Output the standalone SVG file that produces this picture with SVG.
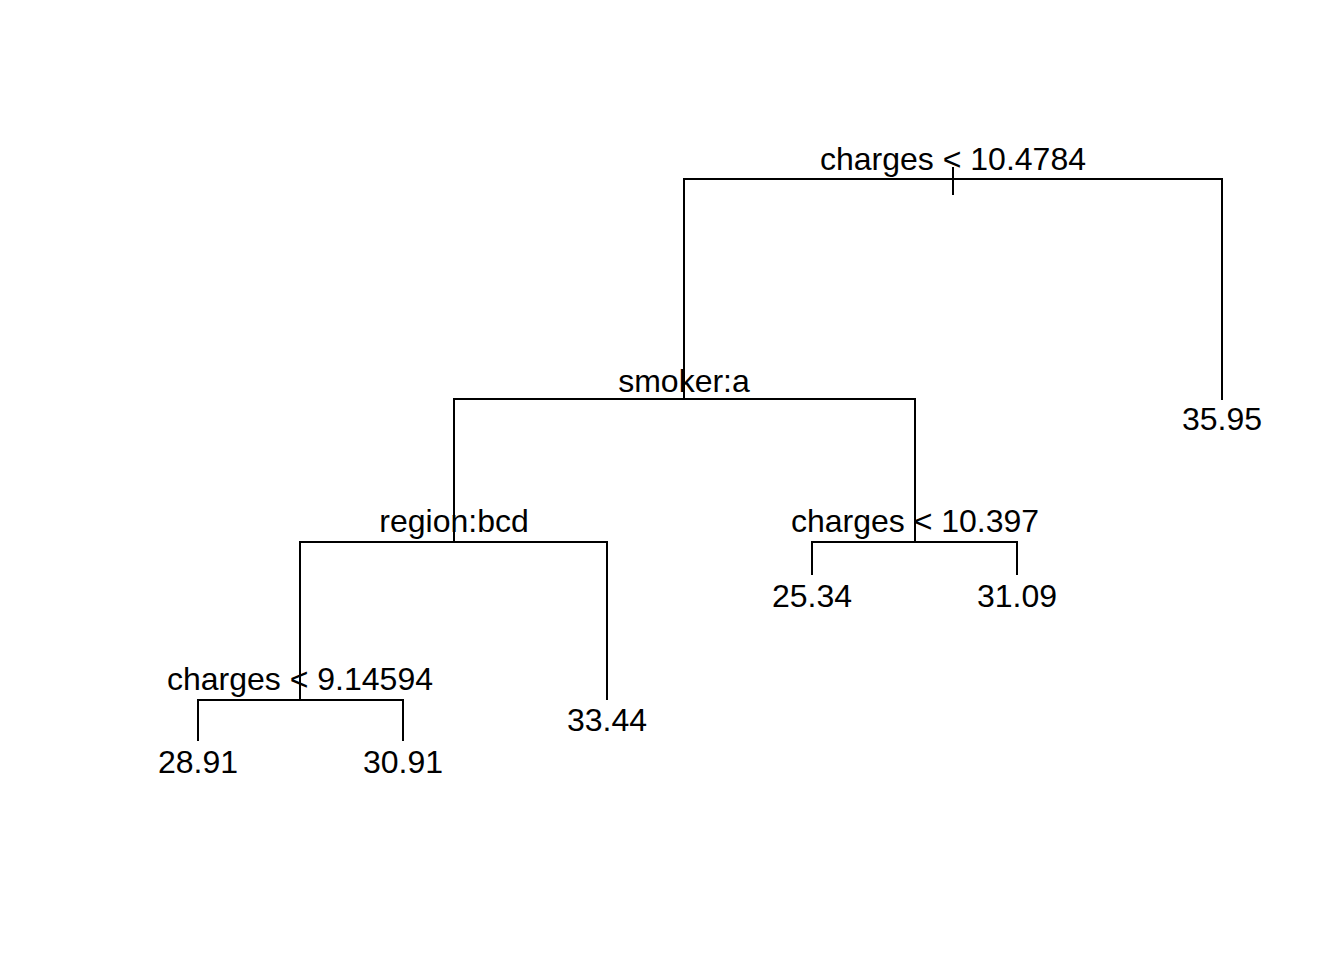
<svg xmlns="http://www.w3.org/2000/svg" width="1344" height="960" viewBox="0 0 1344 960">
<style>
.e{stroke:#000;stroke-width:2;fill:none;stroke-linecap:butt}
text{font-family:"Liberation Sans",Arial,sans-serif;font-size:32px;fill:#000;text-anchor:middle}
</style>
<rect width="1344" height="960" fill="#fff"/>
<g id="connectors">
<path class="e" d="M684,399V179H1222V400"/>
<path class="e" d="M953,167V195"/>
<path class="e" d="M454,542V399H915V542"/>
<path class="e" d="M300,700V542H607V700"/>
<path class="e" d="M198,741V700H403V741"/>
<path class="e" d="M812,575V542H1017V575"/>
</g>
<g id="n1"><text x="953" y="170">charges &lt; 10.4784</text></g>
<g id="n2"><text x="684" y="392">smoker:a</text></g>
<g id="n3"><text x="454" y="532">region:bcd</text></g>
<g id="n4"><text x="300" y="690">charges &lt; 9.14594</text></g>
<g id="n5"><text x="915" y="532">charges &lt; 10.397</text></g>
<g id="l1"><text x="1222" y="430">35.95</text></g>
<g id="l2"><text x="607" y="731">33.44</text></g>
<g id="l3"><text x="198" y="773">28.91</text></g>
<g id="l4"><text x="403" y="773">30.91</text></g>
<g id="l5"><text x="812" y="607">25.34</text></g>
<g id="l6"><text x="1017" y="607">31.09</text></g>
</svg>
